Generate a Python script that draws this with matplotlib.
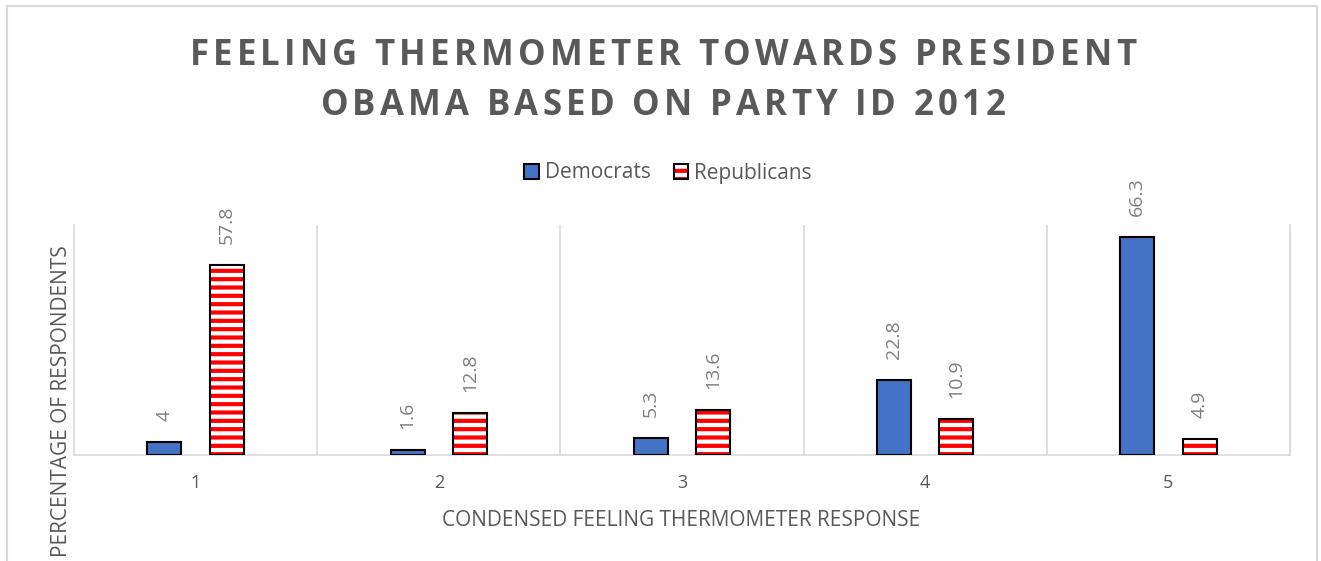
import matplotlib
matplotlib.use("Agg")
import matplotlib.pyplot as plt
import numpy as np
from matplotlib.patches import Rectangle

categories = ["1", "2", "3", "4", "5"]
democrats = [4, 1.6, 5.3, 22.8, 66.3]
republicans = [57.8, 12.8, 13.6, 10.9, 4.9]
title_lines = ["FEELING THERMOMETER TOWARDS PRESIDENT", "OBAMA BASED ON PARTY ID 2012"]

plt.rcParams['font.family'] = ['Open Sans', 'DejaVu Sans']
plt.rcParams['hatch.linewidth'] = 3.0

W, H = 1321, 561
fig = plt.figure(figsize=(W/100, H/100), dpi=100)
ax = fig.add_axes([74/W, 1-455/H, (1290-74)/W, (455-225)/H])

x = np.arange(len(categories))
bw = 0.14
off = 0.128
b1 = ax.bar(x - off, democrats, bw, color='#4472c4', edgecolor='black', linewidth=1.5, zorder=3)
b2h = ax.bar(x + off, republicans, bw, color='white', edgecolor='#ff0000', hatch='--', linewidth=0, zorder=3)
b2o = ax.bar(x + off, republicans, bw, fill=False, edgecolor='black', linewidth=1.5, zorder=4)

for bars, vals in ((b1, democrats), (b2o, republicans)):
    for b, v in zip(bars, vals):
        ax.annotate(f"{v:g}", (b.get_x() + b.get_width()/2, v), xytext=(0, 15), textcoords='offset points',
                    rotation=90, ha='center', va='bottom', fontsize=14, color='#7f7f7f')

ax.set_xlim(-0.5, 4.5)
ax.set_ylim(0, 70)
ax.set_xticks(x)
ax.set_xticklabels(categories, fontsize=13, color='#595959')
ax.set_yticks([])
ax.tick_params(axis='x', length=0, pad=14)
for xb in np.arange(0.5, 4.6, 1):
    ax.axvline(xb, color='#d9d9d9', linewidth=1.2, zorder=0)
ax.spines['top'].set_visible(False)
for s in ('left', 'right', 'bottom'):
    ax.spines[s].set_color('#d9d9d9')
    ax.spines[s].set_linewidth(1.2)

fig.text(681/W, 1-521/H, "CONDENSED FEELING THERMOMETER RESPONSE", ha='center', va='center',
         fontsize=15, color='#595959')
fig.text(62/W, 1-401/H, "PERCENTAGE OF RESPONDENTS", ha='center', va='center', rotation=90,
         fontsize=15, color='#595959')

# Title with letter spacing (each character is a real text object)
renderer = fig.canvas.get_renderer()
tfs = 25
line_y = [56, 106]
target_w0 = 947.0
def char_widths(s):
    ws = []
    for ch in s:
        if ch == ' ':
            t = fig.text(0, 0, 'a a', fontsize=tfs, fontweight='bold')
            w_full = t.get_window_extent(renderer).width
            t.remove()
            t = fig.text(0, 0, 'aa', fontsize=tfs, fontweight='bold')
            w_nos = t.get_window_extent(renderer).width
            t.remove()
            ws.append(w_full - w_nos)
        else:
            t = fig.text(0, 0, ch, fontsize=tfs, fontweight='bold')
            ws.append(t.get_window_extent(renderer).width)
            t.remove()
    return ws
w0 = char_widths(title_lines[0])
spacing = (target_w0 - sum(w0)) / (len(w0) - 1)
for line, yy in zip(title_lines, line_y):
    ws = char_widths(line)
    total = sum(ws) + spacing * (len(ws) - 1)
    cx = 663 - total / 2
    for ch, w in zip(line, ws):
        if ch != ' ':
            fig.text(cx / W, 1 - yy / H, ch, ha='left', va='center', fontsize=tfs,
                     fontweight='bold', color='#595959')
        cx += w + spacing

leg = fig.legend(handles=[b1, (b2h, b2o)], labels=['Democrats', 'Republicans'], loc='center',
                 bbox_to_anchor=(668/W, 1-173/H), ncol=2, frameon=False, fontsize=15,
                 handlelength=0.7, handleheight=0.7, handletextpad=0.3, columnspacing=1.1)
for t in leg.get_texts():
    t.set_color('#595959')

fig.patches.append(Rectangle((7/W, -0.1), (1317-7)/W, 1.1-6/H, transform=fig.transFigure,
                             fill=False, edgecolor='#d9d9d9', linewidth=1.5))

fig.savefig("out.png", dpi=100)
